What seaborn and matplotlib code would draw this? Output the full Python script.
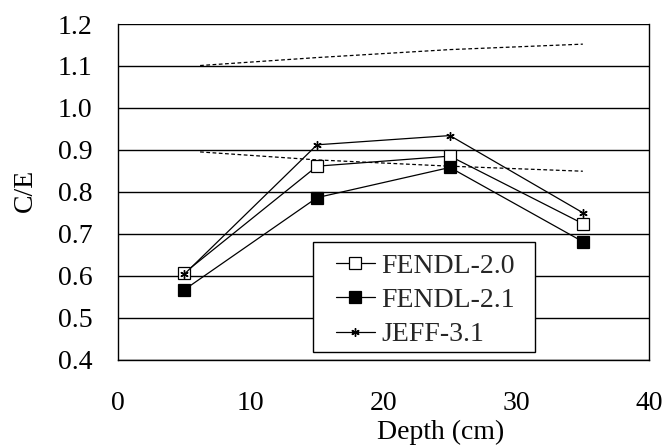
import numpy as np
import pandas as pd
import matplotlib
matplotlib.use("Agg")
import matplotlib.pyplot as plt
from matplotlib.patches import Rectangle
import seaborn as sns

# C/E values
depth = [5, 15, 25, 35]
fendl20 = [0.606, 0.861, 0.885, 0.724]
fendl21 = [0.566, 0.786, 0.858, 0.681]
jeff31 = [0.603, 0.912, 0.934, 0.750]

# uncertainty band (dashed)
band_x = [6.2, 15, 25, 35]
band_hi = [1.101, 1.120, 1.139, 1.152]
band_lo = [0.895, 0.876, 0.861, 0.849]

sns.set_theme(style="white")
plt.rcParams['font.family'] = ['Liberation Serif', 'DejaVu Serif']
FS = 20

df = pd.DataFrame({
    'Depth': depth * 3,
    'CE': fendl20 + fendl21 + jeff31,
    'Library': ['FENDL-2.0'] * 4 + ['FENDL-2.1'] * 4 + ['JEFF-3.1'] * 4,
})

fig = plt.figure(figsize=(6.66, 4.48), dpi=100)
ax = fig.add_axes([0.1767, 0.1975, 0.7982, 0.7489])

# dashed band lines
ax.plot(band_x, band_hi, color='black', linestyle=(0, (3, 2)), linewidth=0.9)
ax.plot(band_x, band_lo, color='black', linestyle=(0, (3, 2)), linewidth=0.9)

styles = {
    'FENDL-2.0': dict(marker='s', mfc='white', mec='black', ms=8, mew=0.9),
    'FENDL-2.1': dict(marker='s', mfc='black', mec='black', ms=8, mew=0.9),
    'JEFF-3.1': dict(marker=(6, 2, 0), mfc='black', mec='black', ms=6, mew=1.0),
}
for lib, sub in df.groupby('Library'):
    sns.lineplot(data=sub, x='Depth', y='CE', ax=ax, color='black',
                 linewidth=0.9, label=lib, **styles[lib])

ax.set_xlim(0, 40)
ax.set_ylim(0.4, 1.2)
ax.set_xticks([0, 10, 20, 30, 40])
ax.set_yticks(np.arange(0.4, 1.21, 0.1))
ax.set_yticklabels([f"{v:.1f}" for v in np.arange(0.4, 1.21, 0.1)])
ax.yaxis.grid(True, color='black', linewidth=1.0)
ax.set_axisbelow(True)
for s in ax.spines.values():
    s.set_color('black')
    s.set_linewidth(1.0)
ax.spines['top'].set_visible(False)

ax.tick_params(axis='both', which='both', direction='out', length=7,
               width=1.0, color='black', labelsize=FS, labelcolor='black')
ax.tick_params(axis='x', pad=16)
ax.tick_params(axis='y', pad=11)
ax.set_xlabel('Depth (cm)', fontsize=FS, color='black')
ax.set_ylabel('C/E', fontsize=FS, color='black')
ax.xaxis.set_label_coords(0.608, -0.18)
ax.yaxis.set_label_coords(-0.15, 0.505)

# legend box (white, black edge) with the entries placed inside
ax.add_patch(Rectangle((0.367, 0.0229), 0.418, 0.328, transform=ax.transAxes,
                       facecolor='white', edgecolor='black', linewidth=1.0,
                       zorder=4))
leg = ax.legend(loc='upper left', bbox_to_anchor=(0.4107, 0.317),
                fontsize=FS, frameon=False, borderaxespad=0, borderpad=0,
                handlelength=1.4, handletextpad=0.24, labelspacing=0.32)
leg.set_zorder(5)

fig.savefig('out.png', dpi=100, facecolor='white')
